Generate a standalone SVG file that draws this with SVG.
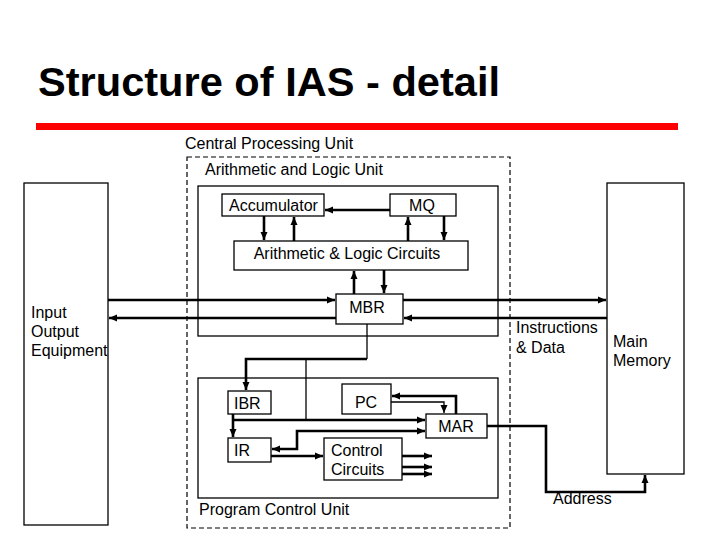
<svg xmlns="http://www.w3.org/2000/svg" width="720" height="540" viewBox="0 0 720 540">
<style>
text{font-family:"Liberation Sans",Arial,sans-serif;font-size:16px;fill:#000}
.title{font-size:41px;font-weight:bold}
.box{fill:#fff;stroke:#000;stroke-width:1.3}
.dash{fill:none;stroke:#000;stroke-width:1.2;stroke-dasharray:5,3}
.thk{fill:none;stroke:#000;stroke-width:2.6}
.thn{fill:none;stroke:#000;stroke-width:1.3}
.mid{text-anchor:middle}
</style>
<defs>
<marker id="ah" viewBox="0 0 8 8" refX="8" refY="4" markerWidth="8" markerHeight="8" markerUnits="userSpaceOnUse" orient="auto"><path d="M0,0.5 L8,4 L0,7.5 z" fill="#000"/></marker>
<marker id="as" viewBox="0 0 8 8" refX="8" refY="4" markerWidth="8" markerHeight="8" markerUnits="userSpaceOnUse" orient="auto-start-reverse"><path d="M0,0.5 L8,4 L0,7.5 z" fill="#000"/></marker>
</defs>
<rect width="720" height="540" fill="#fff"/>
<text class="title" x="38" y="96" textLength="462" lengthAdjust="spacingAndGlyphs">Structure of IAS - detail</text>
<rect x="36" y="123" width="642" height="7" fill="#f00"/>

<g id="cpu">
<rect class="dash" x="187" y="157" width="323" height="371"/>
<text x="185" y="149">Central Processing Unit</text>
</g>
<g id="alu">
<rect class="box" x="198" y="186" width="300" height="150"/>
<text x="205" y="175">Arithmetic and Logic Unit</text>
</g>
<g id="pcu">
<rect class="box" x="198" y="378" width="300" height="120"/>
<text x="199" y="515">Program Control Unit</text>
</g>
<g id="io">
<rect class="box" x="24" y="183" width="84" height="342"/>
<text x="31" y="318">Input</text>
<text x="31" y="337">Output</text>
<text x="31" y="356">Equipment</text>
</g>
<g id="memory">
<rect class="box" x="607" y="183" width="77" height="291"/>
<text x="613" y="347">Main</text>
<text x="613" y="366">Memory</text>
</g>
<g id="accumulator">
<rect class="box" x="222" y="194" width="102" height="22"/>
<text x="229" y="211">Accumulator</text>
</g>
<g id="mq">
<rect class="box" x="390" y="194" width="66" height="22"/>
<text class="mid" x="422" y="211">MQ</text>
</g>
<g id="alc">
<rect class="box" x="234" y="241" width="234" height="29"/>
<text class="mid" x="347" y="259">Arithmetic &amp; Logic Circuits</text>
</g>
<g id="mbr">
<rect class="box" x="336" y="294" width="67" height="30"/>
<text class="mid" x="367" y="313">MBR</text>
</g>
<g id="ibr">
<rect class="box" x="228" y="391" width="43" height="23"/>
<text x="234" y="409">IBR</text>
</g>
<g id="pc">
<rect class="box" x="342" y="384" width="49" height="30"/>
<text class="mid" x="366" y="408">PC</text>
</g>
<g id="mar">
<rect class="box" x="426" y="414" width="61" height="24"/>
<text class="mid" x="456" y="432">MAR</text>
</g>
<g id="ir">
<rect class="box" x="228" y="438" width="43" height="24"/>
<text x="234" y="456">IR</text>
</g>
<g id="control">
<rect class="box" x="324" y="438" width="78" height="42"/>
<text x="331" y="456">Control</text>
<text x="331" y="475">Circuits</text>
</g>

<g id="connectors">
<path class="thk" d="M390,210 H325" marker-end="url(#ah)"/>
<path class="thk" d="M264,216 V240" marker-end="url(#ah)"/>
<path class="thk" d="M294,241 V217" marker-end="url(#ah)"/>
<path class="thk" d="M408,241 V217" marker-end="url(#ah)"/>
<path class="thk" d="M444,216 V240" marker-end="url(#ah)"/>
<path class="thk" d="M354,294 V271" marker-end="url(#ah)"/>
<path class="thk" d="M384,270 V293" marker-end="url(#ah)"/>
<path class="thk" d="M108,300 H335" marker-end="url(#ah)"/>
<path class="thk" d="M336,318 H109" marker-end="url(#ah)"/>
<path class="thk" d="M403,300 H606" marker-end="url(#ah)"/>
<path class="thk" d="M607,318 H404" marker-end="url(#ah)"/>
<path class="thn" d="M367,324 V359"/>
<path class="thk" d="M367,359 H246 V390" marker-end="url(#ah)"/>
<path class="thn" d="M306,359 V420"/>
<path class="thk" d="M233,414 V437" marker-end="url(#ah)"/>
<path class="thk" d="M233,420 H425" marker-end="url(#ah)"/>
<path class="thk" d="M425,431 H297 V449 H272" marker-start="url(#as)" marker-end="url(#ah)"/>
<path class="thk" d="M271,456 H323" marker-end="url(#ah)"/>
<path class="thk" d="M402,456 H432" marker-end="url(#ah)"/>
<path class="thk" d="M402,467 H432" marker-end="url(#ah)"/>
<path class="thk" d="M402,474 H432" marker-end="url(#ah)"/>
<path class="thk" d="M456,414 V396 H392" marker-end="url(#ah)"/>
<path class="thn" d="M391,402 H444 V413" marker-end="url(#ah)"/>
<path class="thk" d="M487,426 H546 V492 H645 V475" marker-end="url(#ah)"/>
</g>
<g id="labels">
<text x="516" y="333">Instructions</text>
<text x="516" y="353">&amp; Data</text>
<text x="553" y="504">Address</text>
</g>
</svg>
